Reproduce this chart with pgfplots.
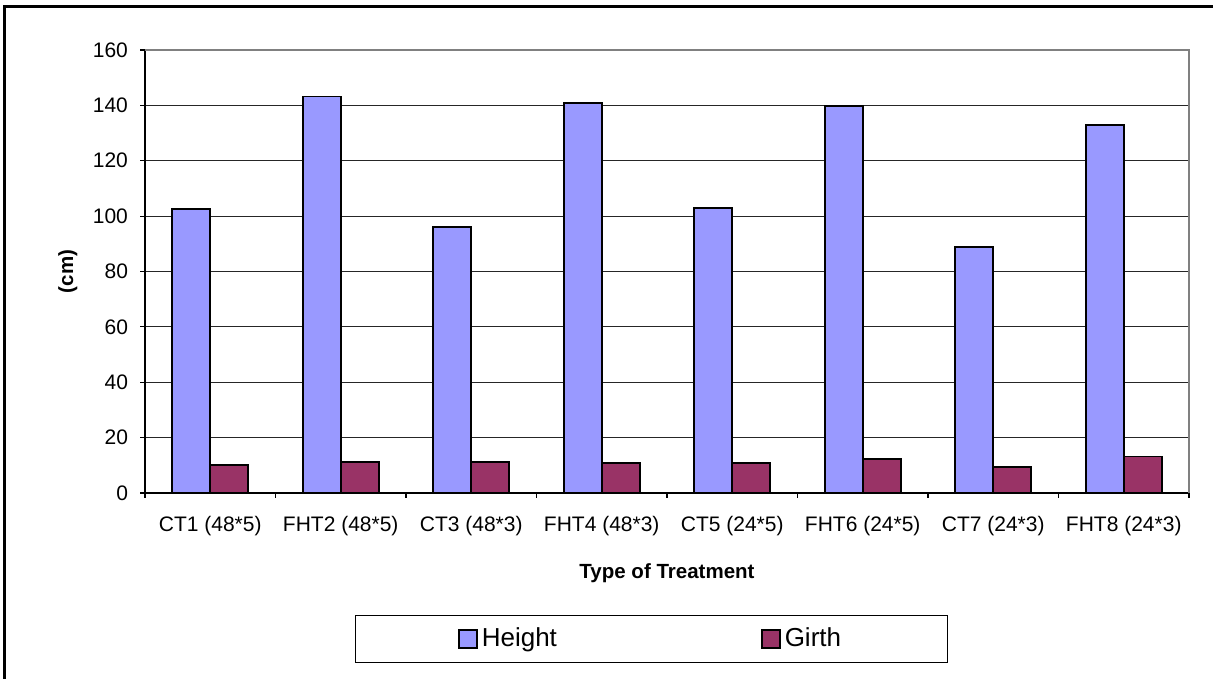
\documentclass[border=0pt]{standalone}
\usepackage{pgfplots}
\pgfplotsset{compat=1.18}
\usepackage{fontspec}
\setmainfont{Liberation Sans}
\definecolor{hcol}{HTML}{9999FF}
\definecolor{gcol}{HTML}{993366}
\pgfplotsset{sqlegend/.style={legend image code/.code={\draw[##1, line width=0.9pt] (0pt,-4.5pt) rectangle (9pt,4.5pt);}}}
\begin{document}
\begin{tikzpicture}
\draw[line width=1.5pt] (2pt,0pt) -- (2pt,336pt) -- (606.5pt,336pt);
\begin{axis}[
  at={(72.5pt,93pt)}, anchor=south west,
  scale only axis, width=522pt, height=221.5pt,
  xmin=-0.5, xmax=7.5, ymin=0, ymax=160,
  ybar=0pt, bar width=19pt,
  xtick={0,...,7},
  xticklabels={CT1 (48*5),FHT2 (48*5),CT3 (48*3),FHT4 (48*3),CT5 (24*5),FHT6 (24*5),CT7 (24*3),FHT8 (24*3)},
  minor xtick={-0.5,0.5,...,7.5},
  major x tick style={draw=none},
  ytick={0,20,...,160},
  tick align=outside,
  xtick pos=bottom, ytick pos=left,
  major tick length=2.5pt, minor tick length=2.5pt,
  tick style={black, line width=0.6pt},
  axis lines*=left,
  axis line style={black, line width=0.8pt},
  ymajorgrids,
  major grid style={black!85, line width=0.5pt},
  /pgf/number format/assume math mode=true,
  ticklabel style={font=\fontsize{10.5}{12}\selectfont},
  xticklabel style={yshift=-5.5pt},
  yticklabel style={xshift=-2.5pt},
  xlabel={Type of Treatment},
  ylabel={(cm)},
  label style={font=\bfseries\fontsize{10.25}{12}\selectfont},
  xlabel style={at={(axis description cs:0.5,-0.1806)}, anchor=center},
  ylabel style={at={(axis description cs:-0.0738,0.5)}, anchor=center},
  legend columns=2,
  legend style={at={(0.4852,-0.3296)}, anchor=center, draw=black, line width=0.5pt,
    font=\fontsize{13}{15}\selectfont, inner xsep=51.25pt, inner ysep=4.2pt,
    /tikz/every even column/.append style={column sep=100pt}},
  after end axis/.code={
    \draw[black!50, line width=1pt] (rel axis cs:0,1) -- (rel axis cs:1,1) -- (rel axis cs:1,0);
  },
]
\addplot[draw=black, line width=0.9pt, fill=hcol, sqlegend]
  coordinates {(0,102.5) (1,143.2) (2,96) (3,140.8) (4,102.9) (5,139.8) (6,88.8) (7,132.9)};
\addlegendentry{Height}
\addplot[draw=black, line width=0.9pt, fill=gcol, sqlegend]
  coordinates {(0,10.1) (1,11.3) (2,11.3) (3,10.8) (4,10.8) (5,12.3) (6,9.5) (7,13.2)};
\addlegendentry{Girth}
\end{axis}
\pgfresetboundingbox
\path (0pt,0pt) rectangle (607.5pt,339.5pt);
\end{tikzpicture}
\end{document}
